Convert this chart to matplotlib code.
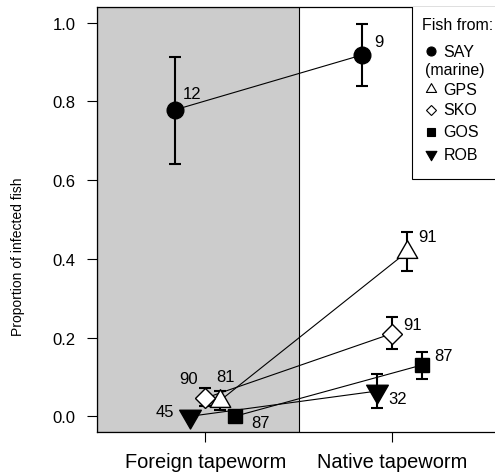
import numpy as np
import matplotlib
matplotlib.use("Agg")
import matplotlib.pyplot as plt
from matplotlib.patches import Rectangle
from matplotlib.path import Path

plt.rcParams['font.family'] = ['Liberation Sans', 'DejaVu Sans']

# populations, plotted with a small horizontal offset so they don't overlap
pops = ["SAY", "GPS", "SKO", "GOS", "ROB"]
offset = [-0.16, 0.08, 0.0, 0.16, -0.08]

# proportion infected: foreign tapeworm / native tapeworm
foreign = [0.779, 0.040, 0.046, 0.0, 0.0]
foreign_lo = [0.640, 0.017, 0.025, 0.0, 0.0]
foreign_hi = [0.913, 0.063, 0.071, 0.0, 0.0]
native = [0.918, 0.417, 0.210, 0.130, 0.064]
native_lo = [0.840, 0.368, 0.170, 0.094, 0.022]
native_hi = [0.996, 0.469, 0.252, 0.164, 0.107]

# number of fish exposed
n_foreign = [12, 81, 90, 87, 45]
n_native = [9, 91, 91, 87, 32]

# label offsets (points) and alignment
lab_foreign = [((5, 12), "left"), ((3.6, 17), "center"), ((-12, 14.4), "center"),
               ((12, -4.3), "left"), ((-11.5, 3.6), "right")]
lab_native = [((9, 9.5), "left"), ((8.4, 11.5), "left"), ((8.4, 6.5), "left"),
              ((9, 7), "left"), ((8, -5), "left")]

# triangles centred on their centroid, like R's pch 2 / 6
tri_up = Path([(0, 1), (-0.866, -0.5), (0.866, -0.5), (0, 1)], closed=True)
tri_dn = Path([(0, -1), (-0.866, 0.5), (0.866, 0.5), (0, -1)], closed=True)
mk = ["o", tri_up, "D", "s", tri_dn]
face = ["k", "w", "w", "k", "k"]
size = [12, 17, 10.5, 10, 18]

fig = plt.figure(figsize=(4.95, 4.77), dpi=100)
ax = fig.add_axes([97/495, 44/477, 403/495, 425/477])
ax.set_xlim(0.42, 2.58)
ax.set_ylim(-0.04, 1.04)
ax.axvspan(0.42, 1.5, facecolor="#cccccc", edgecolor="k", lw=0.8, zorder=0)

for i in range(len(pops)):
    x = [1 + offset[i], 2 + offset[i]]
    y = [foreign[i], native[i]]
    lo = [foreign[i] - foreign_lo[i], native[i] - native_lo[i]]
    hi = [foreign_hi[i] - foreign[i], native_hi[i] - native[i]]
    ax.plot(x, y, color="k", lw=0.8, zorder=2)
    ax.errorbar(x, y, yerr=[lo, hi], fmt="none", ecolor="k", elinewidth=1.5,
                capsize=4.6, capthick=1.5, zorder=3)
    ax.plot(x, y, ls="none", marker=mk[i], ms=size[i], mfc=face[i], mec="k",
            mew=1.0, zorder=4)
    for xx, yy, n, (off, ha) in [(x[0], y[0], n_foreign[i], lab_foreign[i]),
                                 (x[1], y[1], n_native[i], lab_native[i])]:
        ax.annotate(str(n), (xx, yy), xytext=off, textcoords="offset points",
                    ha=ha, va="center", fontsize=12, zorder=5)

ax.set_xticks([1, 2])
ax.set_xticklabels(["Foreign tapeworm", "Native tapeworm"], fontsize=14.4)
ax.set_yticks(np.arange(0, 1.01, 0.2))
ax.set_yticklabels([f"{v:.1f}" for v in np.arange(0, 1.01, 0.2)], fontsize=12)
ax.tick_params(axis="x", length=7.2, width=0.8, pad=7)
ax.tick_params(axis="y", length=7.2, width=0.8, pad=8.4)
ax.set_ylabel("Proportion of infected fish", fontsize=10)
ax.yaxis.set_label_coords(-0.178, 0.414)
for s in ax.spines.values():
    s.set_linewidth(0.9)

# legend box drawn by hand
ax.add_patch(Rectangle((0.781, 0.595), 0.4, 0.5, transform=ax.transAxes,
                       facecolor="w", edgecolor="k", lw=0.8, zorder=6))
ax.text(0.806, 0.96, "Fish from:", transform=ax.transAxes, fontsize=11.5,
        va="center", ha="left", zorder=7)
leg_y = [0.896, 0.807, 0.758, 0.706, 0.654]
leg_ms = [6.5, 8.5, 5, 6, 9]
for i in range(len(pops)):
    ax.plot([0.828], [leg_y[i]], transform=ax.transAxes, ls="none", marker=mk[i],
            ms=leg_ms[i], mfc=face[i], mec="k", mew=0.8, zorder=7, clip_on=False)
    ax.text(0.86, leg_y[i], pops[i], transform=ax.transAxes, fontsize=11.5,
            va="center", ha="left", zorder=7)
ax.text(0.814, 0.854, "(marine)", transform=ax.transAxes, fontsize=11.5,
        va="center", ha="left", zorder=7)

fig.savefig("out.png", dpi=100)
